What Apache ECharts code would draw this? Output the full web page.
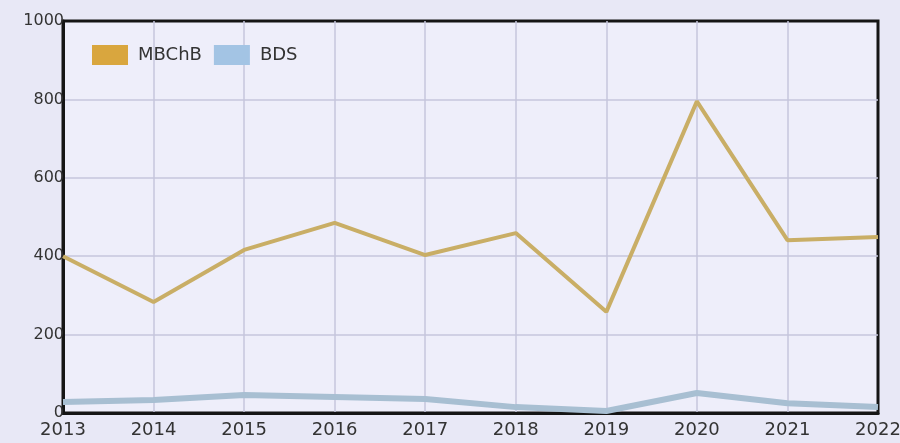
<!DOCTYPE html>
<html>
<head>
<meta charset="utf-8">
<script src="https://cdn.jsdelivr.net/npm/echarts@6/dist/echarts.min.js"></script>
<style>
  html, body { margin: 0; padding: 0; background: #e8e8f6; }
  #chart { width: 900px; height: 443px; }
</style>
</head>
<body>
<div id="chart"></div>
<script>
const years = ['2013', '2014', '2015', '2016', '2017', '2018', '2019', '2020', '2021', '2022'];
const mbchb = [400, 283, 416, 485, 403, 459, 258, 795, 441, 449];
const bds = [28, 33, 46, 41, 36, 15, 5, 51, 25, 15];

const chart = echarts.init(document.getElementById('chart'));

var option = {
  backgroundColor: '#e8e8f6',
  textStyle: { fontFamily: 'DejaVu Sans' },
  grid: {
    left: 63,
    right: 22,
    top: 21,
    bottom: 30,
    outerBoundsMode: 'none',
    show: true,
    backgroundColor: '#eeeefa',
    borderColor: '#151515',
    borderWidth: 3
  },
  legend: {
    left: 87,
    top: 40,
    itemWidth: 36,
    itemHeight: 20,
    itemGap: 12,
    icon: 'rect',
    textStyle: { color: '#333', fontSize: 18, fontFamily: 'DejaVu Sans', padding: [0, 0, 0, 5] },
    data: [
      { name: 'MBChB', itemStyle: { color: '#d9a63e' } },
      { name: 'BDS', itemStyle: { color: '#a3c4e4' } }
    ]
  },
  xAxis: {
    type: 'category',
    boundaryGap: false,
    data: years,
    axisLine: { show: true, lineStyle: { color: '#151515', width: 3 } },
    axisTick: { show: false },
    axisLabel: { color: '#333', fontSize: 18, margin: 8 },
    splitLine: { show: true, showMinLine: false, showMaxLine: false, lineStyle: { color: '#c6c6dc', width: 1.5 } }
  },
  yAxis: {
    type: 'value',
    min: 0,
    max: 1000,
    interval: 200,
    axisLine: { show: true, lineStyle: { color: '#151515', width: 3 } },
    axisTick: { show: false },
    axisLabel: { color: '#333', fontSize: 16, margin: -1, formatter: function (v) { return String(v); } },
    splitLine: { show: true, showMinLine: false, showMaxLine: false, lineStyle: { color: '#c6c6dc', width: 1.5 } }
  },
  series: [
    {
      name: 'MBChB',
      type: 'line',
      data: mbchb,
      symbol: 'none',
      lineStyle: { color: '#c9ae66', width: 4 },
      itemStyle: { color: '#c9ae66' }
    },
    {
      name: 'BDS',
      type: 'line',
      data: bds,
      symbol: 'none',
      lineStyle: { color: '#a8bfd2', width: 6 },
      itemStyle: { color: '#a8bfd2' }
    }
  ]
};

option && chart.setOption(option);
</script>
</body>
</html>
